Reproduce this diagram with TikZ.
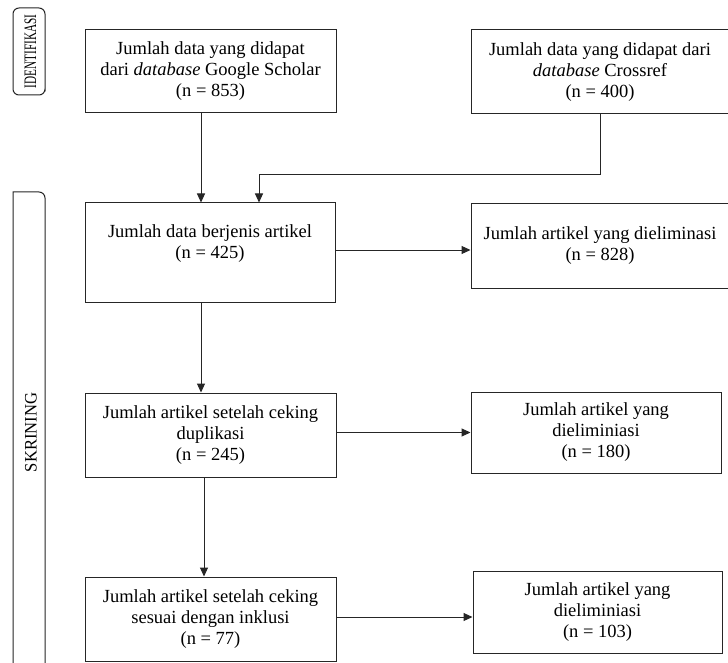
\documentclass[tikz,border=0pt]{standalone}
\usepackage{fontspec}
\setmainfont{Liberation Serif}
\definecolor{ink}{RGB}{38,38,38}
\usetikzlibrary{arrows.meta}
\tikzset{
  flowbox/.style={draw=ink, line width=1pt, align=center, inner sep=3pt,
    font=\fontsize{18.5}{21}\selectfont},
  flowarrow/.style={draw=ink, line width=1pt, -{Triangle[length=9pt,width=8pt]}},
  sidebox/.style={draw=ink, line width=1pt},
  sidetext/.style={rotate=90, inner sep=0pt, font=\fontsize{17.5}{20}\selectfont},
}

\begin{document}
\begin{tikzpicture}[x=1pt, y=-1pt]
        \fill[white] (0,0) rectangle (728,663);
        \useasboundingbox (0,0) rectangle (728,663);
        % side labels
        \draw[sidebox] (45,95) -- (13+6,95) [rounded corners=6pt] -- (13,95) -- (13,8) [sharp corners] -- (45-6,8)
          [rounded corners=6pt] -- (45,8) -- (45,95) -- cycle;
        \node[sidetext] (identlbl) at (30.5,51.5) {\scalebox{0.64}[1]{IDENTIFIKASI}};
        \draw[sidebox] (13,700) -- (13,192) -- (45-6,192) [rounded corners=6pt] -- (45,192) -- (45,700);
        \node[sidetext] (skrinlbl) at (31,432.5) {\scalebox{0.95}[1]{SKRINING}};
        % boxes
        \node[flowbox, minimum width=251pt, minimum height=83pt] (scholar) at (210.5,71.5)
          {Jumlah data yang didapat\\dari \textit{database} Google Scholar\\(n = 853)};
        \node[flowbox, minimum width=258pt, minimum height=84pt] (crossref) at (600,72)
          {Jumlah data yang didapat dari\\\textit{database} Crossref\\(n = 400)};
        \node[flowbox, minimum width=250pt, minimum height=99pt, text depth=22pt] (artikel) at (210,252.5)
          {Jumlah data berjenis artikel\\(n = 425)};
        \node[flowbox, minimum width=258pt, minimum height=84pt] (elimA) at (600,246)
          {Jumlah artikel yang dieliminasi\\(n = 828)};
        \node[flowbox, minimum width=251pt, minimum height=84pt] (duplikat) at (210.5,435)
          {Jumlah artikel setelah ceking\\duplikasi\\(n = 245)};
        \node[flowbox, minimum width=250pt, minimum height=81pt] (elimB) at (596,432.5)
          {Jumlah artikel yang\\dieliminiasi\\(n = 180)};
        \node[flowbox, minimum width=251pt, minimum height=84pt] (inklusi) at (210.5,619)
          {Jumlah artikel setelah ceking\\sesuai dengan inklusi\\(n = 77)};
        \node[flowbox, minimum width=249pt, minimum height=82pt] (elimC) at (597.5,612)
          {Jumlah artikel yang\\dieliminiasi\\(n = 103)};
        % connectors
        \coordinate (spine) at (201,0);
        \coordinate (join) at (259,175);
        \draw[flowarrow] (scholar.south -| spine) -- (artikel.north -| spine);
        \draw[flowarrow] (crossref.south) |- (join) -- (join |- artikel.north);
        \draw[flowarrow] ([yshift=-4pt]artikel.east |- elimA.west) -- ([yshift=-4pt]elimA.west);
        \draw[flowarrow] (artikel.south -| spine) -- (duplikat.north -| spine);
        \draw[flowarrow] (duplikat.east |- elimB.west) -- (elimB.west);
        \draw[flowarrow] ([xshift=3pt]duplikat.south -| spine) -- ([xshift=3pt]inklusi.north -| spine);
        \draw[flowarrow] ([yshift=2pt]inklusi.east) -- ([yshift=2pt]inklusi.east -| elimC.west);
      \end{tikzpicture}
\end{document}
